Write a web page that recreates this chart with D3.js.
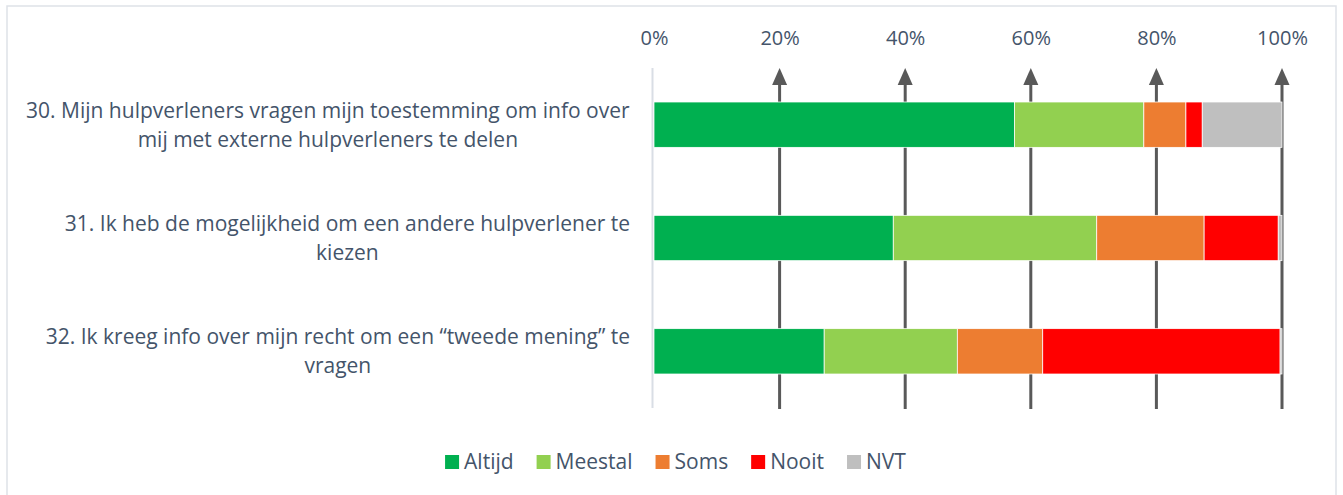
<!DOCTYPE html>
<html lang="nl">
<head>
  <meta charset="UTF-8">
  <title>Stacked bar</title>
  <script src="https://d3js.org/d3.v7.min.js"></script>
  <style>
    body
    {
      margin: 0;
      background-color: #ffffff;
    }

    svg
    {
      font-family: "Open Sans", sans-serif;
    }
  </style>
</head>
<body>
  <svg width="1343" height="495"></svg>
  <script>
    const categories = [
      "30. Mijn hulpverleners vragen mijn toestemming om info over mij met externe hulpverleners te delen",
      "31. Ik heb de mogelijkheid om een andere hulpverlener te kiezen",
      "32. Ik kreeg info over mijn recht om een \u201ctweede mening\u201d te vragen"
    ];
    const seriesNames = ["Altijd", "Meestal", "Soms", "Nooit", "NVT"];
    const altijd = [57.4, 38.1, 27.1];
    const meestal = [20.6, 32.4, 21.2];
    const soms = [6.7, 17.1, 13.6];
    const nooit = [2.6, 11.8, 37.8];
    const nvt = [12.7, 0.6, 0.3];
    const tickValues = [0, 0.2, 0.4, 0.6, 0.8, 1];
    const colors = ["#00B050", "#92D050", "#ED7D31", "#FF0000", "#BFBFBF"];

    const width = 1343;
    const height = 495;
    const textColor = "#44546A";

    const svg = d3.select("svg");

    //outer frame (bottom edge falls outside the picture)
    svg.append("rect")
      .attr("x", 7).attr("y", 6)
      .attr("width", width - 14).attr("height", height + 20)
      .attr("fill", "none")
      .attr("stroke", "#DEE2E8")
      .attr("stroke-width", 1.5);

    const rows = categories.map((c, i) => {
      const total = altijd[i] + meestal[i] + soms[i] + nooit[i] + nvt[i];
      return {
        name: c,
        Altijd: altijd[i] / total,
        Meestal: meestal[i] / total,
        Soms: soms[i] / total,
        Nooit: nooit[i] / total,
        NVT: nvt[i] / total
      };
    });

    const x = d3.scaleLinear().domain([0, 1]).range([654, 1282]);
    const y = d3.scaleBand()
      .domain(categories)
      .range([68, 408])
      .paddingInner(0.6)
      .paddingOuter(0.3);

    const color = d3.scaleOrdinal().domain(seriesNames).range(colors);

    //left axis line
    svg.append("line")
      .attr("x1", x(0) - 1.5).attr("x2", x(0) - 1.5)
      .attr("y1", 68).attr("y2", 408)
      .attr("stroke", "#D9DEE5")
      .attr("stroke-width", 2);

    //arrow gridlines
    const grid = svg.append("g");
    tickValues.filter(d => d > 0).forEach(t => {
      const gx = x(t);
      grid.append("line")
        .attr("x1", gx).attr("x2", gx)
        .attr("y1", 82).attr("y2", 409)
        .attr("stroke", "#595959")
        .attr("stroke-width", 3);
      grid.append("path")
        .attr("d", `M${gx},68 L${gx + 7.5},85 L${gx - 7.5},85 Z`)
        .attr("fill", "#595959");
    });

    //top axis labels
    const axis = svg.append("g")
      .attr("transform", "translate(0,45)")
      .call(d3.axisTop(x).tickValues(tickValues).tickFormat(d3.format(".0%")).tickSize(0).tickPadding(0));
    axis.select(".domain").remove();
    axis.selectAll("text")
      .attr("fill", textColor)
      .style("font-size", "20px")
      .style("font-family", "'Open Sans', sans-serif");

    //bars
    const stacked = d3.stack().keys(seriesNames)(rows);
    svg.append("g")
      .selectAll("g")
      .data(stacked)
      .join("g")
      .attr("fill", d => color(d.key))
      .selectAll("rect")
      .data(d => d)
      .join("rect")
      .attr("x", d => x(d[0]))
      .attr("width", d => x(d[1]) - x(d[0]))
      .attr("y", d => y(d.data.name))
      .attr("height", y.bandwidth())
      .attr("stroke", "#ffffff")
      .attr("stroke-width", 0.75);

    //category labels, wrapped
    const labels = svg.append("g");
    categories.forEach(c => {
      const t = labels.append("text")
        .attr("text-anchor", "middle")
        .attr("fill", textColor)
        .style("font-size", "21px");
      const words = c.split(" ");
      const lines = [];
      let line = [];
      const probe = t.append("tspan");
      words.forEach(w => {
        line.push(w);
        probe.text(line.join(" "));
        if (probe.node().getComputedTextLength() > 615 && line.length > 1) {
          line.pop();
          lines.push(line.join(" "));
          line = [w];
        }
      });
      lines.push(line.join(" "));
      probe.remove();
      const cy = y(c) + y.bandwidth() / 2;
      const lh = 29;
      const centerX = 327;
      lines.forEach((l, i) => {
        t.append("tspan")
          .attr("x", centerX)
          .attr("y", cy + (i - (lines.length - 1) / 2) * lh)
          .attr("dy", "0.35em")
          .text(l);
      });
      //right align block to 630
      const bb = t.node().getBBox();
      t.attr("transform", `translate(${630 - (bb.x + bb.width)},0)`);
    });

    //legend
    const legend = svg.append("g");
    let lx = 0;
    seriesNames.forEach(name => {
      const g = legend.append("g");
      g.append("rect")
        .attr("width", 14).attr("height", 14)
        .attr("y", -7)
        .attr("fill", color(name));
      const txt = g.append("text")
        .attr("x", 19)
        .attr("dy", "0.35em")
        .attr("fill", textColor)
        .style("font-size", "21px")
        .text(name);
      const w = 19 + txt.node().getComputedTextLength();
      g.attr("transform", `translate(${lx},0)`);
      lx += w + 23;
    });
    const legendWidth = lx - 23;
    legend.attr("transform", `translate(${675.5 - legendWidth / 2},462)`);
  </script>
</body>
</html>
